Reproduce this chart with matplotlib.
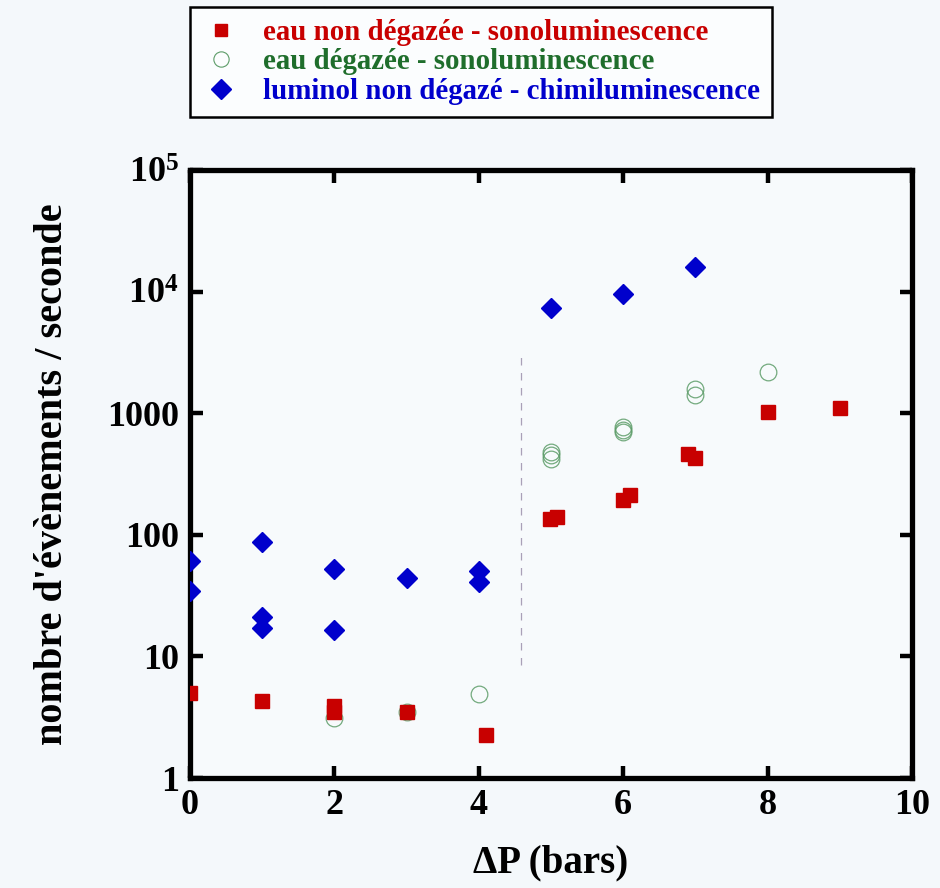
import matplotlib
matplotlib.use("Agg")
import matplotlib.pyplot as plt
from matplotlib.lines import Line2D

plt.rcParams['font.family'] = ['Liberation Serif', 'DejaVu Serif']
plt.rcParams['font.weight'] = 'bold'
plt.rcParams['mathtext.fontset'] = 'custom'
plt.rcParams['mathtext.rm'] = 'Liberation Serif:bold'
plt.rcParams['mathtext.it'] = 'Liberation Serif:bold'
plt.rcParams['mathtext.bf'] = 'Liberation Serif:bold'

# Data
red_x = [0, 1, 2, 2, 3, 4.1, 4.98, 5.09, 6.0, 6.1, 6.9, 7.0, 8.0, 9.0]
red_y = [5.0, 4.3, 3.9, 3.5, 3.5, 2.25, 135, 140, 195, 212, 460, 425, 1030, 1100]

green_x = [2, 3, 4, 5, 5, 5, 6, 6, 6, 7, 7, 8]
green_y = [3.1, 3.5, 4.9, 480, 450, 420, 770, 730, 700, 1580, 1400, 2200]

blue_x = [0, 0, 1, 1, 1, 2, 2, 3, 4, 4, 5, 6, 7]
blue_y = [61, 34.5, 87, 21, 17, 52, 16.5, 44, 50, 41, 7300, 9600, 16000]

dash_x = [4.58, 4.58]
dash_y = [8.5, 3000]

x_ticks = [0, 2, 4, 6, 8, 10]
y_ticks = [1, 10, 100, 1000, 1e4, 1e5]
y_ticklabels = ['1', '10', '100', '1000', r'$10^4$', r'$10^5$']

labels = ['eau non dégazée - sonoluminescence',
          'eau dégazée - sonoluminescence',
          'luminol non dégazé - chimiluminescence']

red_c = '#c80000'
green_c = '#1f6e2c'
green_marker_c = '#5c9c68'
blue_c = '#0000cc'
bg = '#f4f8fb'

fig = plt.figure(figsize=(9.4, 8.88), dpi=100, facecolor=bg)
ax = fig.add_axes([190/940, 1-778/888, (912-190)/940, (778-170)/888])
ax.set_facecolor('#f7fafc')

ax.plot(dash_x, dash_y, linestyle=(0, (6, 6)), color='#a9a0b8', lw=0.9, zorder=1)
ax.plot(red_x, red_y, linestyle='none', marker='s', ms=10, color=red_c, mec=red_c, zorder=3)
ax.plot(green_x, green_y, linestyle='none', marker='o', ms=12, mfc='none', mec=green_marker_c,
        mew=0.9, alpha=0.85, zorder=2)
ax.plot(blue_x, blue_y, linestyle='none', marker='D', ms=10, color=blue_c, mec=blue_c, zorder=4)

ax.set_yscale('log')
ax.set_xlim(0, 10)
ax.set_ylim(1, 1e5)
ax.set_xticks(x_ticks)
ax.set_xticklabels([str(t) for t in x_ticks])
ax.set_yticks(y_ticks)
ax.set_yticklabels(y_ticklabels)
ax.minorticks_off()
ax.tick_params(which='major', direction='in', length=9, width=3.2, labelsize=26,
               top=True, right=True, pad=8)
for s in ax.spines.values():
    s.set_linewidth(3.8)
    s.set_clip_on(False)
for t in ax.get_xticklabels() + ax.get_yticklabels():
    t.set_fontweight('bold')

ax.set_xlabel('ΔP (bars)', fontsize=28, fontweight='bold', labelpad=16)
ax.set_ylabel("nombre d'évènements / seconde", fontsize=29, fontweight='bold', labelpad=26)

handles = [Line2D([], [], linestyle='none', marker='s', ms=9, color=red_c),
           Line2D([], [], linestyle='none', marker='o', ms=11, mfc='none', mec=green_marker_c, mew=0.8),
           Line2D([], [], linestyle='none', marker='D', ms=10, color=blue_c)]
leg = fig.legend(handles, labels, loc='upper left', bbox_to_anchor=(190/940, 1-7/888),
                 prop={'family': 'Liberation Serif', 'weight': 'bold', 'size': 20.8},
                 frameon=True, fancybox=False, edgecolor='black', facecolor='#fbfdfe',
                 framealpha=1, borderpad=0.42, labelspacing=0.08, handletextpad=0.8,
                 borderaxespad=0, handlelength=1.3)
leg.get_frame().set_linewidth(1.8)
for txt, c in zip(leg.get_texts(), [red_c, green_c, blue_c]):
    txt.set_color(c)

fig.savefig('out.png', dpi=100, facecolor=bg)
